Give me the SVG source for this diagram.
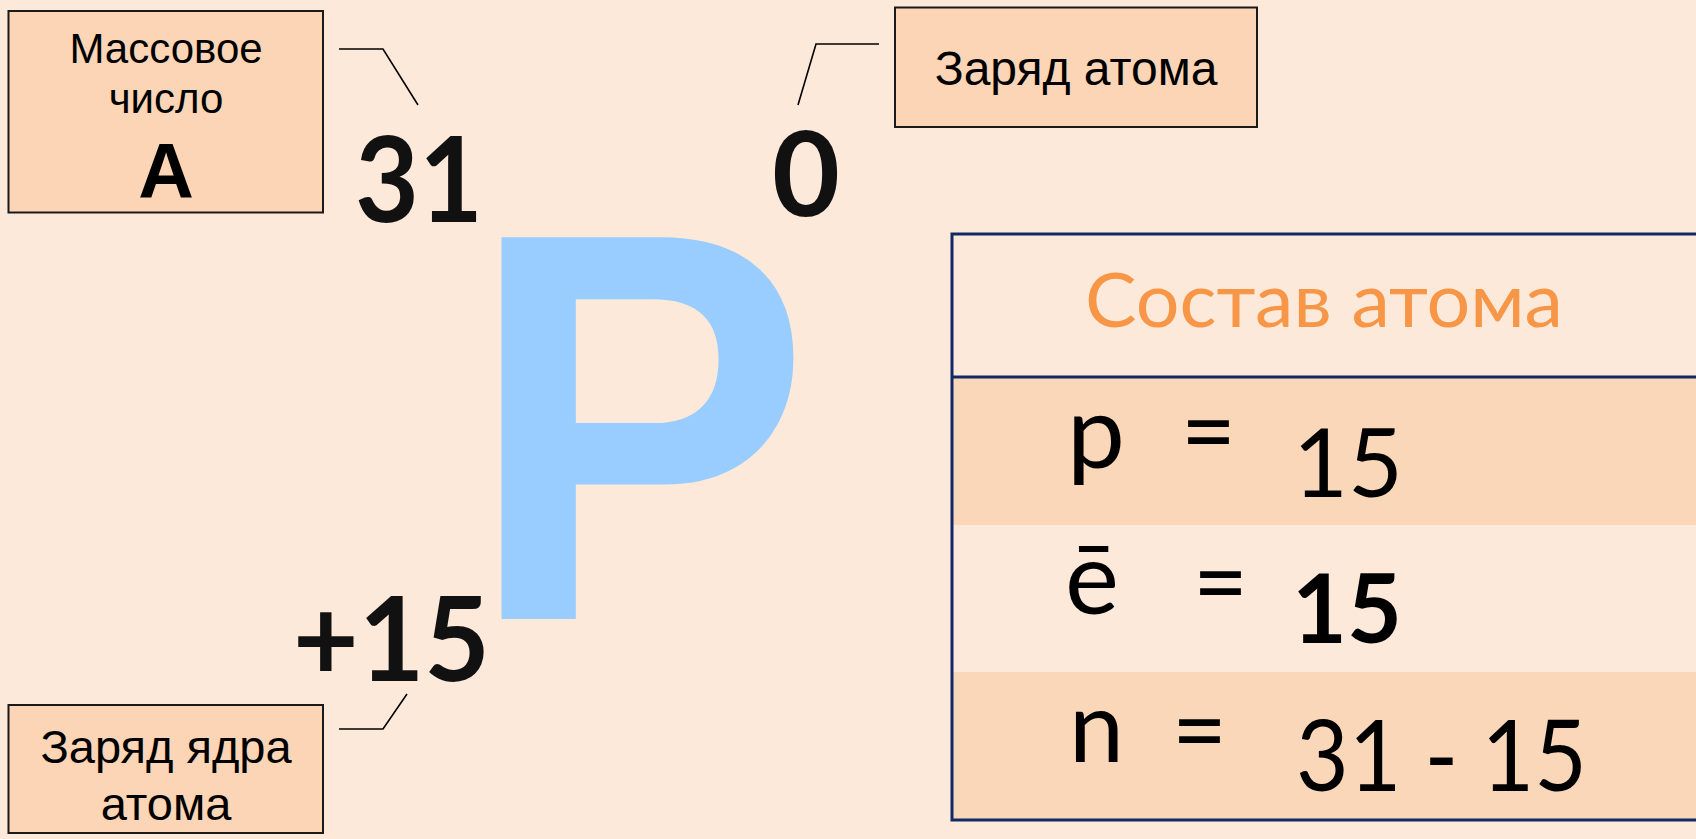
<svg xmlns="http://www.w3.org/2000/svg" width="1696" height="839" viewBox="0 0 1696 839">
<style>
.box{fill:#FBD5B5;stroke:#1a1a1a;stroke-width:2}
.lbl{font-family:"Liberation Sans",Arial,sans-serif;fill:#000;text-anchor:middle}
.big{font-family:Lato,"Open Sans",sans-serif;font-weight:700;fill:#111}
.cal{font-family:Lato,"Open Sans",sans-serif;fill:#000}
.lead{fill:none;stroke:#000;stroke-width:1.6}
.row{fill:#FBD7B9}
.border{fill:none;stroke:#112a66;stroke-width:3}
</style>
<rect width="1696" height="839" fill="#FDE9DA"/>

<g id="symbol-P">
<text x="467" y="619" font-family="Liberation Sans, Arial, sans-serif" font-weight="700" font-size="555" fill="#99CCFF" textLength="344" lengthAdjust="spacingAndGlyphs">P</text>
</g>

<g id="mass-number-box">
<rect class="box" x="8.5" y="11" width="314.5" height="201.5"/>
<text class="lbl" x="166" y="63" font-size="42">Массовое</text>
<text class="lbl" x="166" y="113" font-size="42">число</text>
<text class="lbl" x="166" y="198" font-size="77" font-weight="700">A</text>
</g>

<g id="mass-number">
<text class="big" x="355" y="222" font-size="118" textLength="128" lengthAdjust="spacingAndGlyphs">31</text>
</g>

<g id="atom-charge-box">
<rect class="box" x="895" y="7.5" width="362" height="119.5"/>
<text class="lbl" x="1076" y="85" font-size="48">Заряд атома</text>
</g>

<g id="atom-charge">
<text class="big" x="772" y="216" font-size="116" textLength="68" lengthAdjust="spacingAndGlyphs">0</text>
</g>

<g id="nuclear-charge">
<text class="big" x="293" y="681" font-size="117" textLength="197" lengthAdjust="spacingAndGlyphs">+15</text>
</g>

<g id="nuclear-charge-box">
<rect class="box" x="8.5" y="705" width="314.5" height="128"/>
<text class="lbl" x="166" y="763" font-size="47">Заряд ядра</text>
<text class="lbl" x="166" y="820" font-size="47">атома</text>
</g>

<g id="connectors">
<polyline class="lead" points="339,49 383,49 418,105"/>
<polyline class="lead" points="879,44 816,44 798,105"/>
<polyline class="lead" points="339,729 383,729 407,694"/>
</g>

<g id="composition-table">
<rect class="row" x="952" y="377" width="760" height="148"/>
<rect class="row" x="952" y="672" width="760" height="148"/>
<line class="border" x1="952" y1="377" x2="1700" y2="377"/>
<polyline class="border" points="1700,234 952,234 952,820 1700,820"/>
<text x="1085" y="327" font-family="Lato, 'Open Sans', sans-serif" font-size="75" fill="#F79646" textLength="478" lengthAdjust="spacingAndGlyphs">Состав атома</text>

<text class="cal" x="1067" y="468" font-size="100" textLength="58" lengthAdjust="spacingAndGlyphs">p</text>
<text class="cal" x="1181" y="466" font-size="100" textLength="55" lengthAdjust="spacingAndGlyphs">=</text>
<text class="cal" x="1293" y="497" font-size="95" textLength="110" lengthAdjust="spacingAndGlyphs">15</text>

<text class="cal" x="1065" y="614" font-size="100" textLength="54" lengthAdjust="spacingAndGlyphs">ē</text>
<text class="cal" x="1193" y="617" font-size="100" textLength="55" lengthAdjust="spacingAndGlyphs">=</text>
<text class="cal" x="1292" y="643" font-size="95" font-weight="700" textLength="110" lengthAdjust="spacingAndGlyphs">15</text>

<text class="cal" x="1069" y="762" font-size="99" textLength="55" lengthAdjust="spacingAndGlyphs">n</text>
<text class="cal" x="1172" y="765" font-size="100" textLength="55" lengthAdjust="spacingAndGlyphs">=</text>
<text class="cal" x="1296" y="791" font-size="99" textLength="291" lengthAdjust="spacingAndGlyphs">31 - 15</text>
</g>
</svg>
